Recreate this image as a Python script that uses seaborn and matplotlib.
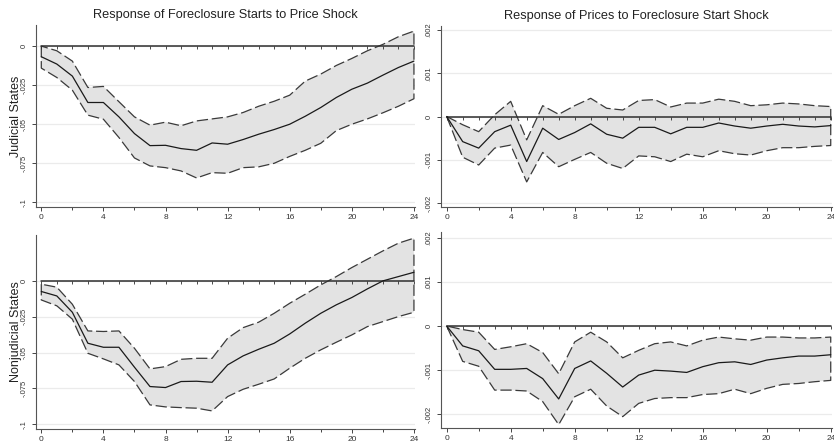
import numpy as np
import pandas as pd
import matplotlib
matplotlib.use("Agg")
import matplotlib.pyplot as plt
import seaborn as sns

# ---------------------------------------------------------------
# data: impulse responses (median + bands), horizons 0..24
# ---------------------------------------------------------------
horizon = list(range(25))

# judicial states, foreclosure starts <- price shock
jud_fc_mid = [-0.0068, -0.0115, -0.0192, -0.0361, -0.0361, -0.0453, -0.0560, -0.0637,
              -0.0635, -0.0656, -0.0667, -0.0620, -0.0628, -0.0598, -0.0564, -0.0534,
              -0.0500, -0.0449, -0.0393, -0.0329, -0.0276, -0.0237, -0.0186, -0.0137, -0.0096]
jud_fc_hi = [0.0000, -0.0030, -0.0096, -0.0265, -0.0258, -0.0356, -0.0453, -0.0506,
             -0.0487, -0.0510, -0.0479, -0.0466, -0.0453, -0.0425, -0.0385, -0.0353,
             -0.0314, -0.0224, -0.0179, -0.0124, -0.0079, -0.0030, 0.0011, 0.0060, 0.0096]
jud_fc_lo = [-0.0141, -0.0201, -0.0282, -0.0442, -0.0468, -0.0585, -0.0716, -0.0767,
             -0.0778, -0.0799, -0.0844, -0.0810, -0.0814, -0.0778, -0.0773, -0.0750,
             -0.0706, -0.0667, -0.0622, -0.0541, -0.0500, -0.0466, -0.0427, -0.0385, -0.0337]

# judicial states, prices <- foreclosure start shock
jud_pr_mid = [0.0, -0.00058, -0.00073, -0.00035, -0.00020, -0.00104, -0.00027, -0.00053,
              -0.00037, -0.00017, -0.00041, -0.00050, -0.00025, -0.00025, -0.00040, -0.00025,
              -0.00025, -0.00015, -0.00022, -0.00027, -0.00022, -0.00018, -0.00022, -0.00024, -0.00021]
jud_pr_hi = [0.0, -0.00019, -0.00035, 0.00004, 0.00035, -0.00054, 0.00025, 0.00005,
             0.00025, 0.00042, 0.00019, 0.00015, 0.00037, 0.00039, 0.00022, 0.00031,
             0.00031, 0.00040, 0.00035, 0.00025, 0.00027, 0.00031, 0.00029, 0.00025, 0.00023]
jud_pr_lo = [0.0, -0.00094, -0.00112, -0.00073, -0.00066, -0.00151, -0.00083, -0.00116,
             -0.00099, -0.00083, -0.00108, -0.00120, -0.00091, -0.00093, -0.00104, -0.00087,
             -0.00093, -0.00079, -0.00086, -0.00089, -0.00079, -0.00072, -0.00072, -0.00069, -0.00067]

# nonjudicial states, foreclosure starts <- price shock
non_fc_mid = [-0.0074, -0.0105, -0.0219, -0.0435, -0.0463, -0.0463, -0.0602, -0.0737,
              -0.0744, -0.0702, -0.0700, -0.0707, -0.0586, -0.0523, -0.0477, -0.0435,
              -0.0370, -0.0295, -0.0226, -0.0167, -0.0116, -0.0056, 0.0000, 0.0030, 0.0060]
non_fc_hi = [-0.0023, -0.0044, -0.0163, -0.0349, -0.0353, -0.0349, -0.0470, -0.0614,
             -0.0598, -0.0547, -0.0540, -0.0540, -0.0400, -0.0326, -0.0288, -0.0226,
             -0.0156, -0.0093, -0.0028, 0.0030, 0.0093, 0.0151, 0.0209, 0.0263, 0.0298]
non_fc_lo = [-0.0133, -0.0174, -0.0267, -0.0505, -0.0544, -0.0586, -0.0702, -0.0865,
             -0.0879, -0.0884, -0.0888, -0.0907, -0.0807, -0.0756, -0.0721, -0.0684,
             -0.0609, -0.0540, -0.0481, -0.0428, -0.0377, -0.0319, -0.0284, -0.0249, -0.0219]

# nonjudicial states, prices <- foreclosure start shock
non_pr_mid = [0.0, -0.00045, -0.00056, -0.00098, -0.00098, -0.00096, -0.00119, -0.00165,
              -0.00096, -0.00079, -0.00107, -0.00138, -0.00111, -0.00100, -0.00102, -0.00105,
              -0.00092, -0.00083, -0.00081, -0.00087, -0.00077, -0.00072, -0.00068, -0.00068, -0.00065]
non_pr_hi = [0.0, -0.00008, -0.00014, -0.00053, -0.00047, -0.00040, -0.00060, -0.00108,
             -0.00036, -0.00014, -0.00036, -0.00072, -0.00055, -0.00040, -0.00036, -0.00045,
             -0.00032, -0.00025, -0.00029, -0.00032, -0.00025, -0.00025, -0.00027, -0.00027, -0.00025]
non_pr_lo = [0.0, -0.00080, -0.00091, -0.00145, -0.00145, -0.00147, -0.00171, -0.00223,
             -0.00160, -0.00143, -0.00181, -0.00205, -0.00175, -0.00164, -0.00162, -0.00162,
             -0.00155, -0.00153, -0.00143, -0.00153, -0.00141, -0.00132, -0.00130, -0.00126, -0.00123]

col_titles = ["Response of Foreclosure Starts to Price Shock",
              "Response of Prices to Foreclosure Start Shock"]
row_titles = ["Judicial States", "Nonjudicial States"]

fc_ticks = [0, -0.025, -0.05, -0.075, -0.1]
fc_labels = ["0", "-.025", "-.05", "-.075", "-.1"]
pr_ticks = [0.002, 0.001, 0, -0.001, -0.002]
pr_labels = [".002", ".001", "0", "-.001", "-.002"]
x_major = [0, 4, 8, 12, 16, 20, 24]
x_minor = [2, 6, 10, 14, 18, 22]

sns.set_theme(style="white")
plt.rcParams["font.family"] = ["Liberation Sans", "DejaVu Sans"]

fig = plt.figure(figsize=(8.34, 4.45), dpi=100)

# axes boxes in figure fractions [left, bottom, width, height]
boxes = {
    (0, 0): [0.0430, 0.5348, 0.4552, 0.4090],
    (0, 1): [0.5285, 0.5348, 0.4695, 0.4068],
    (1, 0): [0.0430, 0.0360, 0.4552, 0.4359],
    (1, 1): [0.5285, 0.0389, 0.4695, 0.4391],
}
panels = {
    (0, 0): (jud_fc_mid, jud_fc_lo, jud_fc_hi, fc_ticks, fc_labels, (-0.103, 0.0135)),
    (0, 1): (jud_pr_mid, jud_pr_lo, jud_pr_hi, pr_ticks, pr_labels, (-0.00209, 0.00209)),
    (1, 0): (non_fc_mid, non_fc_lo, non_fc_hi, fc_ticks, fc_labels, (-0.1033, 0.032)),
    (1, 1): (non_pr_mid, non_pr_lo, non_pr_hi, pr_ticks, pr_labels, (-0.0023, 0.00212)),
}

for (r, c), (mid, lo, hi, yt, yl, ylim) in panels.items():
    ax = fig.add_axes(boxes[(r, c)])
    df = pd.DataFrame({"step": horizon, "mid": mid, "lo": lo, "hi": hi})

    # light horizontal grid at the y ticks
    for v in yt:
        ax.axhline(v, color="#ebebeb", lw=0.9, zorder=0)

    # confidence band with dashed outline
    ax.fill_between(df["step"], df["lo"], df["hi"], facecolor="#e3e3e3",
                    edgecolor="#3a3a3a", linestyle=(0, (9, 3)), linewidth=0.9, zorder=1)
    # zero reference line with small step marks
    ax.plot(df["step"], np.zeros(len(df)), color="#2e2e2e", lw=1.1,
            marker=3, ms=2, mew=0.6, zorder=2)
    sns.lineplot(data=df, x="step", y="mid", ax=ax, color="#1a1a1a", lw=0.9, zorder=3)

    ax.set_ylim(*ylim)
    ax.set_xlim(-0.35 if c == 0 else -0.37, 24.1)
    ax.set_yticks(yt, yl)
    ax.set_xticks(x_major)
    ax.set_xticks(x_minor, minor=True)
    ax.tick_params(axis="y", labelrotation=90, labelsize=5.5, length=3, width=0.7,
                   color="#444444", labelcolor="#333333", pad=3, left=True)
    ax.tick_params(axis="x", which="major", labelsize=6, length=3, width=0.7,
                   color="#444444", labelcolor="#333333", pad=2, bottom=True)
    ax.tick_params(axis="x", which="minor", length=2, width=0.7, color="#444444", bottom=True)
    for lab in ax.get_yticklabels():
        lab.set_verticalalignment("center")
    ax.set_xlabel("")
    ax.set_ylabel("")
    for side in ["top", "right"]:
        ax.spines[side].set_visible(False)
    for side in ["left", "bottom"]:
        ax.spines[side].set_color("#555555")
        ax.spines[side].set_linewidth(0.8)
    ax.set_facecolor("white")

    if r == 0:
        ax.set_title(col_titles[c], fontsize=9.2, color="#222222", pad=5)

# row labels on the left
fig.text(16 / 834, 1 - 116 / 445, row_titles[0], rotation=90, ha="center", va="center",
         fontsize=9, color="#222222")
fig.text(16 / 834, 1 - 332 / 445, row_titles[1], rotation=90, ha="center", va="center",
         fontsize=9, color="#222222")

fig.savefig("out.png", dpi=100, facecolor="white")
